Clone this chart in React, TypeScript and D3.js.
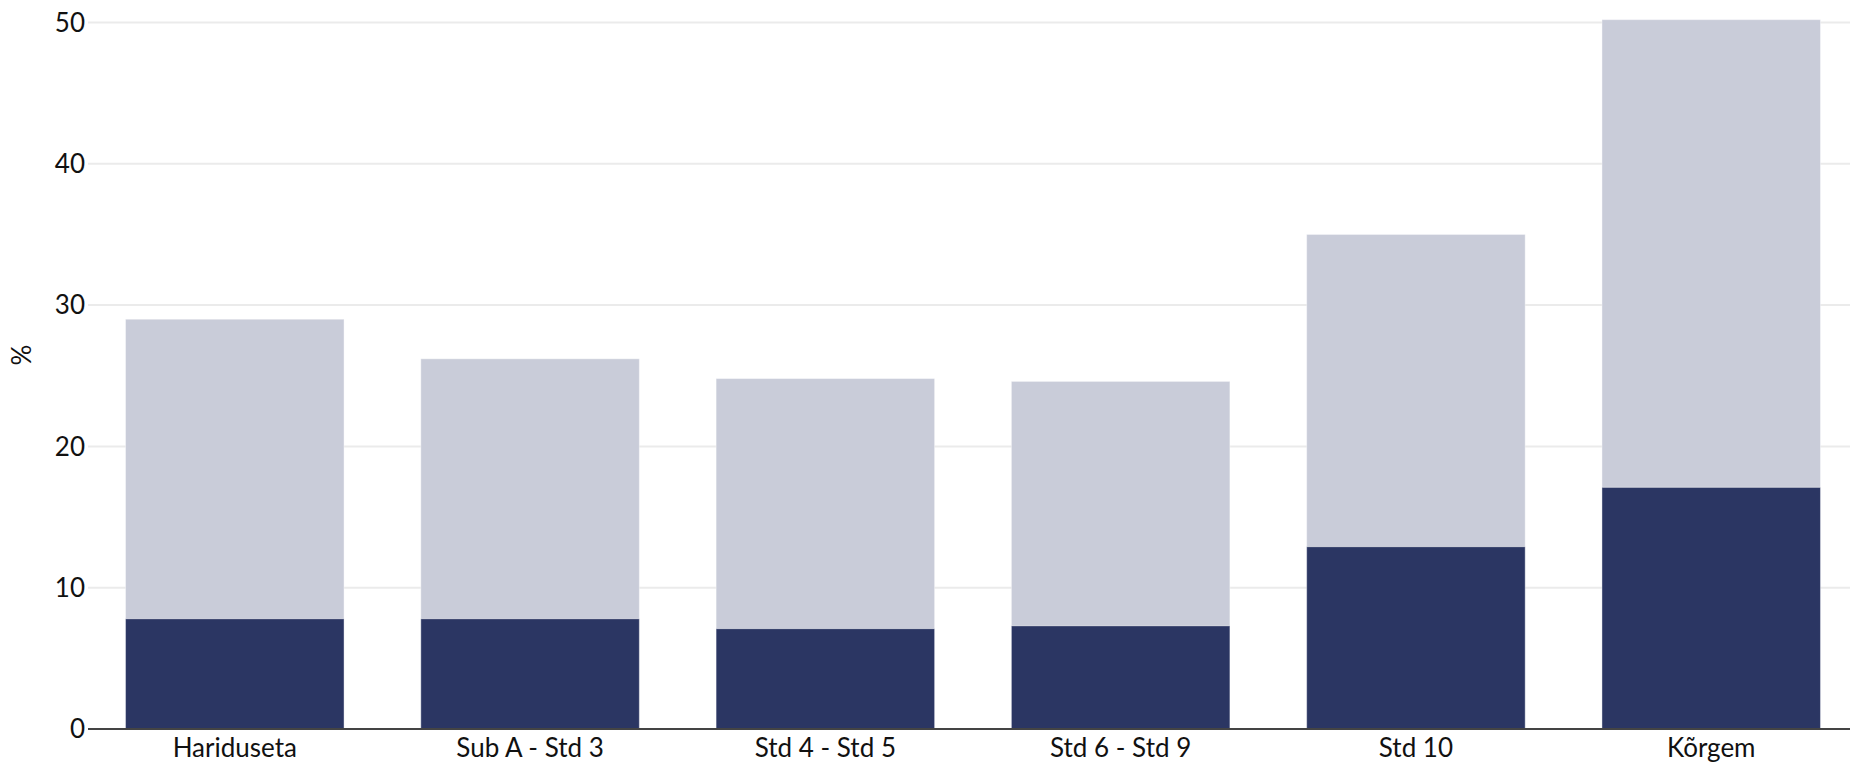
import * as d3 from 'd3';

const categories = ['Hariduseta', 'Sub A - Std 3', 'Std 4 - Std 5', 'Std 6 - Std 9', 'Std 10', 'Kõrgem'];
const darkValues = [7.8, 7.8, 7.1, 7.3, 12.9, 17.1];
const lightValues = [21.2, 18.4, 17.7, 17.3, 22.1, 33.1];
const yTicks = [0, 10, 20, 30, 40, 50];

const width = 1850;
const height = 762;
const margin = { top: 22.5, right: 0, bottom: 33, left: 88 };

const DARK = '#2b3663';
const LIGHT = '#c9ccd9';
const FONT = 'Lato, "Noto Sans", sans-serif';
const FONT_SIZE = 26;

export default function App(): JSX.Element {
  const x = d3.scaleBand<string>()
    .domain(categories)
    .range([margin.left + 8, width - margin.right])
    .paddingInner(0.26)
    .paddingOuter(0.1);

  const y = d3.scaleLinear()
    .domain([0, 50])
    .range([height - margin.bottom, margin.top]);

  const rows = categories.map((c, i) => ({ cat: c, dark: darkValues[i], light: lightValues[i] }));
  const stack = d3.stack<{ cat: string; dark: number; light: number }>().keys(['dark', 'light']);
  const series = stack(rows);
  const colours = [DARK, LIGHT];

  return (
    <svg
      width={width}
      height={height}
      style={{ position: 'absolute', left: 0, top: 0, background: '#fff' }}
    >
      {/* grid + y ticks */}
      <g className="y-axis">
        {yTicks.map(t => (
          <g key={t} transform={`translate(0,${y(t)})`}>
            {t !== 0 && (
              <line x1={margin.left} x2={width - margin.right} stroke="#ebebeb" strokeWidth={2} />
            )}
            <text
              x={margin.left - 3}
              dy="0.35em"
              textAnchor="end"
              fontFamily={FONT}
              fontSize={FONT_SIZE}
              fill="#111"
            >
              {t}
            </text>
          </g>
        ))}
      </g>

      <text
        transform={`translate(22,355) rotate(-90)`}
        textAnchor="middle"
        dy="0.35em"
        fontFamily={FONT}
        fontSize={FONT_SIZE}
        fill="#111"
      >
        %
      </text>

      {/* bars: light drawn first so dark sits on top */}
      {[1, 0].map(si => (
        <g key={si}>
          {series[si].map((d, i) => (
            <rect
              key={categories[i]}
              x={x(categories[i])}
              y={y(d[1])}
              width={x.bandwidth()}
              height={y(d[0]) - y(d[1])}
              fill={colours[si]}
              stroke="#fff"
              strokeOpacity={0.4}
              strokeWidth={1}
            />
          ))}
        </g>
      ))}

      {/* x axis */}
      <line
        x1={margin.left}
        x2={width - margin.right}
        y1={y(0)}
        y2={y(0)}
        stroke="#444"
        strokeWidth={2}
      />
      {categories.map(c => (
        <text
          key={c}
          x={(x(c) ?? 0) + x.bandwidth() / 2}
          y={y(0) + 28}
          textAnchor="middle"
          fontFamily={FONT}
          fontSize={FONT_SIZE}
          fill="#111"
        >
          {c}
        </text>
      ))}
    </svg>
  );
}
